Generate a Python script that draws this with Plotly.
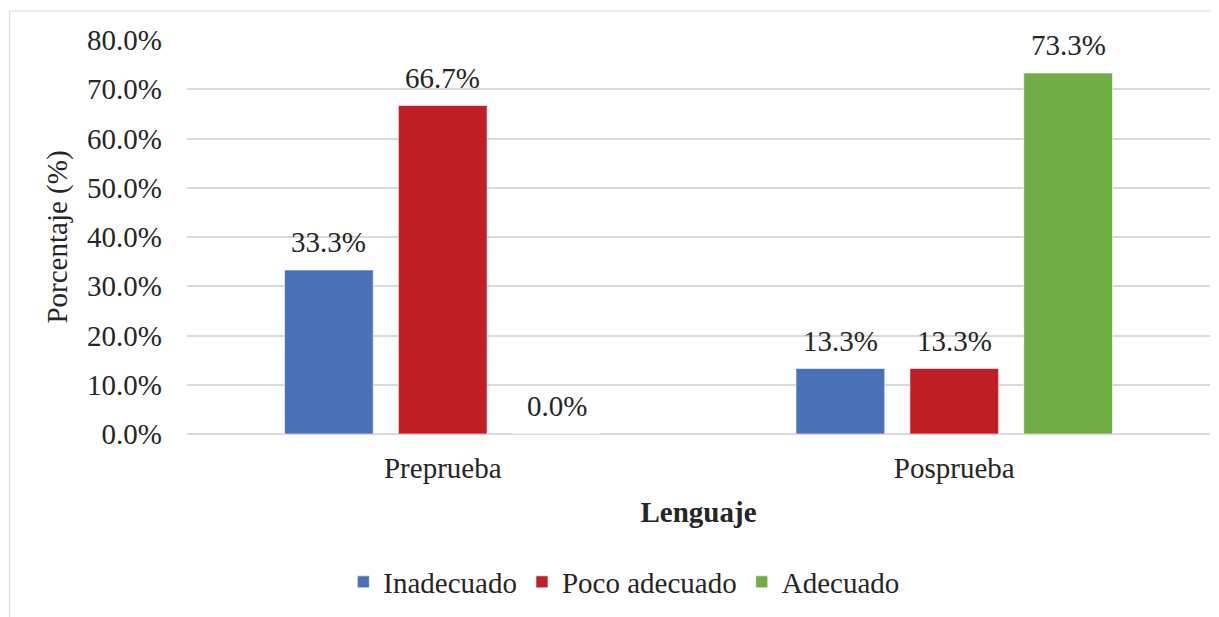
import plotly.graph_objects as go

etapas = ["Preprueba", "Posprueba"]
niveles = ["Inadecuado", "Poco adecuado", "Adecuado"]
inadecuado = [33.3, 13.3]
poco_adecuado = [66.7, 13.3]
adecuado = [0.0, 73.3]
ticks_y = [0, 10, 20, 30, 40, 50, 60, 70, 80]

colores = {"Inadecuado": "#4A72B8", "Poco adecuado": "#BF1F27", "Adecuado": "#70AD47"}
fuente = "'Liberation Serif', 'Times New Roman', serif"

# la página html tiene un margen de 8 px en el body
ancho, alto = 1211, 609
margen = dict(l=179, r=9, t=32, b=175)
bargap, bargroupgap = 0.332, 0.221

fig = go.Figure()
for nombre, valores in zip(niveles, [inadecuado, poco_adecuado, adecuado]):
    fig.add_trace(go.Bar(
        x=etapas,
        y=valores,
        name=nombre,
        marker=dict(color=colores[nombre], line=dict(color="rgba(255,255,255,0.6)", width=1)),
    ))

# etiquetas de datos encima de cada barra
ancho_cat = (ancho - margen["l"] - margen["r"]) / len(etapas)
slot = ancho_cat * (1 - bargap) / len(niveles)
anotaciones = []
for i, valores in enumerate([inadecuado, poco_adecuado, adecuado]):
    for etapa, v in zip(etapas, valores):
        anotaciones.append(dict(
            x=etapa, y=v, xref="x", yref="y",
            text=f"{v:.1f}%", showarrow=False,
            xshift=(i - 1) * slot, yanchor="bottom", yshift=10,
            font=dict(family=fuente, size=29, color="#262626"),
        ))

fig.update_layout(
    width=ancho,
    height=alto,
    margin=margen,
    paper_bgcolor="white",
    plot_bgcolor="white",
    barmode="group",
    bargap=bargap,
    bargroupgap=bargroupgap,
    font=dict(family=fuente, size=29, color="#262626"),
    legend=dict(
        orientation="h", x=0.427, xanchor="center", y=-0.3756, yanchor="middle",
        font=dict(size=29), itemwidth=30, traceorder="normal",
    ),
    annotations=anotaciones,
    shapes=[dict(
        type="rect", xref="paper", yref="paper",
        x0=-0.1734, x1=1.2, y0=-0.7, y1=1.0736,
        line=dict(color="#D9D9D9", width=1), layer="below",
    )],
)

fig.update_yaxes(
    range=[0, 80],
    tickvals=ticks_y,
    ticktext=[f"{v:.1f}%" for v in ticks_y],
    showgrid=True, gridcolor="#D9D9D9", gridwidth=1.5,
    zeroline=True, zerolinecolor="#D9D9D9", zerolinewidth=1.5,
    showline=False,
    ticklabelstandoff=24,
    title=dict(text="Porcentaje (%)", standoff=10, font=dict(size=29)),
    tickfont=dict(size=29),
)
fig.update_xaxes(
    showline=False,
    tickfont=dict(size=29),
    ticklabelstandoff=14,
    title=dict(text="<b>Lenguaje</b>", standoff=18, font=dict(size=29)),
)

fig.write_html("out.html")
